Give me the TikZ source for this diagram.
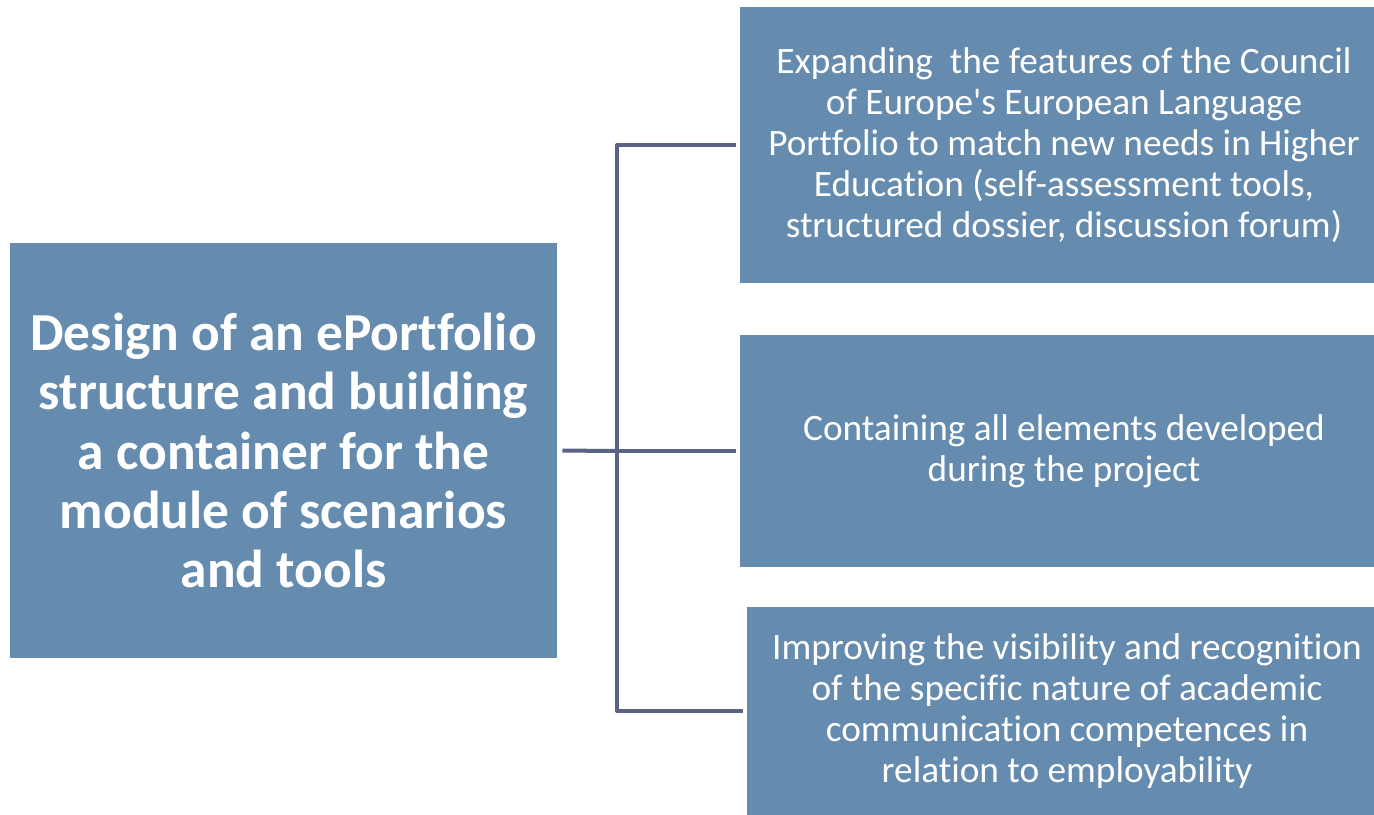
\documentclass[tikz,border=0pt]{standalone}
\usepackage{fontspec}
\newfontfamily\boxfont{Carlito}[Ligatures=NoCommon]
\definecolor{boxblue}{RGB}{101,139,175}
\definecolor{linkgray}{RGB}{89,99,134}
\begin{document}
\begin{tikzpicture}[x=0.025cm, y=-0.025cm, line join=round,
		box/.style={fill=boxblue, text=white, inner sep=0pt, align=center},
		link/.style={draw=linkgray, line width=1mm}]
	\useasboundingbox (0,0) rectangle (1374,815);
	% main box on the left
	\node[box, minimum width=13.675cm, minimum height=10.375cm, font=\boxfont\fontsize{38}{42.2}\selectfont\bfseries] (main) at (283.5,450.5)
		{Design of an ePortfolio\\structure and building\\a container for the\\module of scenarios\\and tools};
	% three boxes on the right
	\node[box, minimum width=16.2cm, minimum height=6.9cm, font=\boxfont\fontsize{26.5}{29.2}\selectfont] (top) at (1064,145)
		{Expanding\ \ the features of the Council\\of Europe's European Language\\Portfolio to match new needs in Higher\\Education (self-assessment tools,\\structured dossier, discussion forum)};
	\node[box, minimum width=16.2cm, minimum height=5.8cm, font=\boxfont\fontsize{26.5}{29.2}\selectfont] (mid) at (1064,451)
		{Containing all elements developed\\during the project};
	\node[box, minimum width=16cm, minimum height=5.2cm, font=\boxfont\fontsize{26.5}{29.2}\selectfont] (bot) at (1067,711)
		{Improving the visibility and recognition\\of the specific nature of academic\\communication competences in\\relation to employability};
	% bracket joining them
	\coordinate (hub) at (617,451);
	\draw[link, shorten <=1.25mm] (main.east) -- (hub);
	\draw[link, shorten >=1mm] (hub) |- (top.west);
	\draw[link, shorten >=1mm] (hub) -- (mid.west);
	\draw[link, shorten >=1mm] (hub) |- (bot.west);
\end{tikzpicture}
\end{document}
